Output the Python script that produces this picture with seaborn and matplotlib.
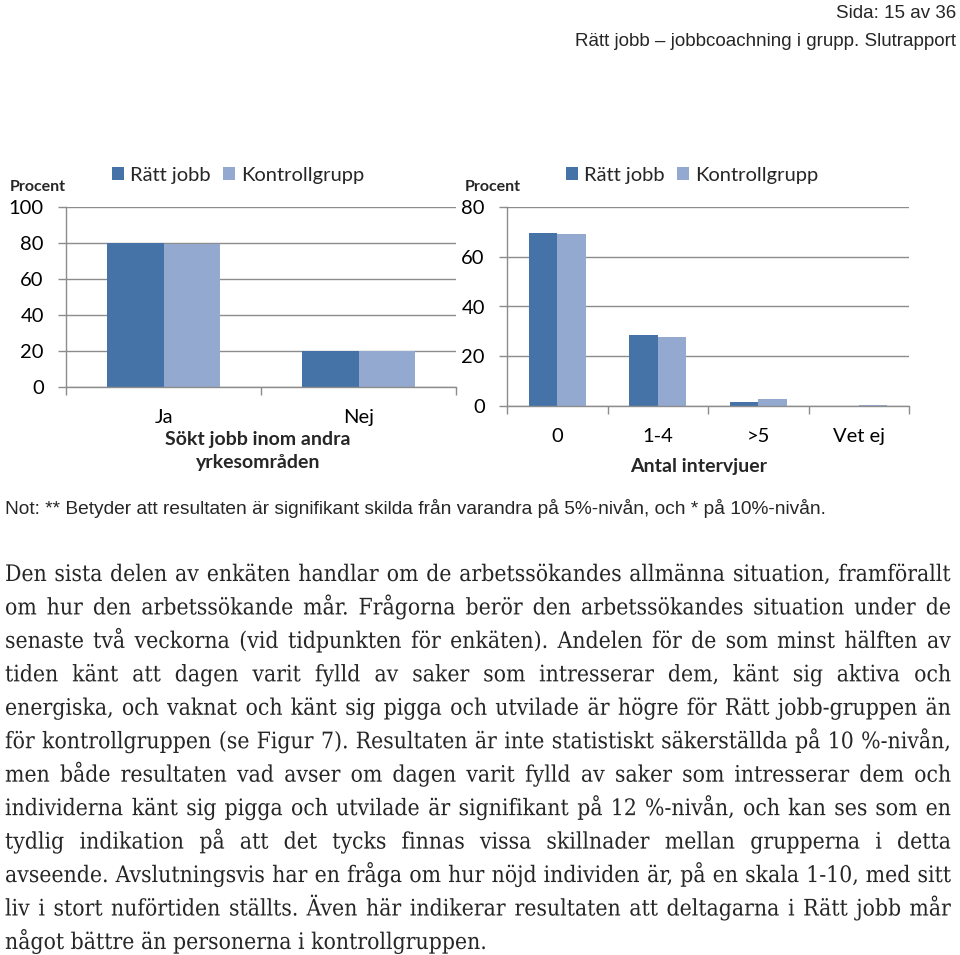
import numpy as np
import pandas as pd
import matplotlib
matplotlib.use("Agg")
import matplotlib.pyplot as plt
import matplotlib.patheffects as pe
from matplotlib.patches import Patch
import seaborn as sns

# ---------------- data ----------------
series = ["Rätt jobb", "Kontrollgrupp"]
left_cats = ["Ja", "Nej"]
left_ratt = [80.0, 20.2]
left_kontroll = [79.7, 20.2]

right_cats = ["0", "1-4", ">5", "Vet ej"]
right_ratt = [69.7, 28.7, 1.7, 0.0]
right_kontroll = [69.0, 27.6, 2.8, 0.6]

left_yticks = [0, 20, 40, 60, 80, 100]
right_yticks = [0, 20, 40, 60, 80]

left_xlabel = "Sökt jobb inom andra\nyrkesområden"
right_xlabel = "Antal intervjuer"
ylabel = "Procent"

header1 = "Sida: 15 av 36"
header2 = "Rätt jobb – jobbcoachning i grupp. Slutrapport"
note = "Not: ** Betyder att resultaten är signifikant skilda från varandra på 5%-nivån, och * på 10%-nivån."
body_lines = [
    "Den sista delen av enkäten handlar om de arbetssökandes allmänna situation, framförallt",
    "om hur den arbetssökande mår. Frågorna berör den arbetssökandes situation under de",
    "senaste två veckorna (vid tidpunkten för enkäten). Andelen för de som minst hälften av",
    "tiden känt att dagen varit fylld av saker som intresserar dem, känt sig aktiva och",
    "energiska, och vaknat och känt sig pigga och utvilade är högre för Rätt jobb-gruppen än",
    "för kontrollgruppen (se Figur 7). Resultaten är inte statistiskt säkerställda på 10 %-nivån,",
    "men både resultaten vad avser om dagen varit fylld av saker som intresserar dem och",
    "individerna känt sig pigga och utvilade är signifikant på 12 %-nivån, och kan ses som en",
    "tydlig indikation på att det tycks finnas vissa skillnader mellan grupperna i detta",
    "avseende. Avslutningsvis har en fråga om hur nöjd individen är, på en skala 1-10, med sitt",
    "liv i stort nuförtiden ställts. Även här indikerar resultaten att deltagarna i Rätt jobb mår",
    "något bättre än personerna i kontrollgruppen.",
]

colors = ["#4572A7", "#93A9CF"]
grid_col = "#8C8C8C"

df_left = pd.DataFrame({
    "cat": left_cats * 2,
    "grupp": [series[0]] * len(left_cats) + [series[1]] * len(left_cats),
    "val": left_ratt + left_kontroll,
})
df_right = pd.DataFrame({
    "cat": right_cats * 2,
    "grupp": [series[0]] * len(right_cats) + [series[1]] * len(right_cats),
    "val": right_ratt + right_kontroll,
})

sns.set_style("white")
plt.rcParams["font.family"] = ["Lato", "DejaVu Sans"]

W, H = 960, 955
fig = plt.figure(figsize=(W / 100, H / 100), dpi=100)


def fx(px):
    return px / W


def fy(py):
    return 1 - py / H


def style_axis(ax, ncat, ymax, yticks):
    ax.set_ylim(0, ymax)
    ax.set_xlim(-0.5, ncat - 0.5)
    ax.set_yticks(yticks)
    ax.set_yticklabels([str(t) for t in yticks], fontsize=14.5, color="black")
    ax.yaxis.grid(True, color=grid_col, linewidth=1.0)
    ax.set_axisbelow(True)
    for s in ["top", "right"]:
        ax.spines[s].set_visible(False)
    for s in ["left", "bottom"]:
        ax.spines[s].set_color(grid_col)
        ax.spines[s].set_linewidth(1.0)
    ax.tick_params(axis="y", which="major", length=6, width=1.0, color=grid_col,
                   pad=10, left=True, direction="out")
    ax.set_xticks(np.arange(-0.5, ncat + 0.5, 1.0), minor=True)
    ax.tick_params(axis="x", which="minor", length=6, width=1.0, color=grid_col,
                   bottom=True, direction="out")
    ax.tick_params(axis="x", which="major", length=0, pad=16, labelsize=14.5,
                   labelcolor="black")
    ax.set_xlabel("")
    ax.set_ylabel("")


# ---------------- left chart ----------------
axL = fig.add_axes([fx(66), fy(387), fx(456) - fx(66), fy(207) - fy(387)])
sns.barplot(data=df_left, x="cat", y="val", hue="grupp", hue_order=series,
            palette=colors, order=left_cats, width=0.575, ax=axL,
            legend=False, saturation=1, errorbar=None, linewidth=0)
style_axis(axL, len(left_cats), 100, left_yticks)

# ---------------- right chart ----------------
axR = fig.add_axes([fx(507), fy(406), fx(909) - fx(507), fy(207) - fy(406)])
sns.barplot(data=df_right, x="cat", y="val", hue="grupp", hue_order=series,
            palette=colors, order=right_cats, width=0.57, ax=axR,
            legend=False, saturation=1, errorbar=None, linewidth=0)
style_axis(axR, len(right_cats), 80, right_yticks)

# legends
handles = [Patch(facecolor=c, edgecolor="none") for c in colors]
for x0 in (112, 566):
    fig.legend(handles, series, loc="center left",
               bbox_to_anchor=(fx(x0), fy(175)), bbox_transform=fig.transFigure,
               ncol=2, frameon=False, fontsize=14.5, handlelength=0.6,
               handleheight=0.6, handletextpad=0.3, columnspacing=0.6,
               borderpad=0, borderaxespad=0)

# y-axis title "Procent"
fig.text(fx(10), fy(187), ylabel, fontsize=11.5, fontweight="bold", ha="left", va="center")
fig.text(fx(465), fy(187), ylabel, fontsize=11.5, fontweight="bold", ha="left", va="center")

# x-axis titles
fig.text(fx(258), fy(451), left_xlabel, fontsize=14, fontweight="bold",
         ha="center", va="center", linespacing=1.45, multialignment="center")
fig.text(fx(699), fy(466), right_xlabel, fontsize=14, fontweight="bold",
         ha="center", va="center")

# ---------------- header / note ----------------
sans = ["Liberation Sans", "DejaVu Sans"]
fig.text(fx(956), fy(18), header1, fontsize=13.5, family=sans, ha="right", va="baseline")
fig.text(fx(956), fy(46), header2, fontsize=13.5, family=sans, ha="right", va="baseline")
fig.text(fx(5), fy(514), note, fontsize=13.8, family=sans, ha="left", va="baseline")

# ---------------- body text (justified, one text per word) ----------------
serif = ["DejaVu Serif", "DejaVu Sans"]
stretch = "condensed"
left_px, right_px = 5, 951
base0, pitch = 581, 33.45
fx_path = [pe.Normal()]   # draw as outlines -> identical baselines for every word
fig.canvas.draw()
renderer = fig.canvas.get_renderer()

fs = 15.0
probe = fig.text(0, 0, "", fontsize=fs, family=serif, fontstretch=stretch)
maxw = 0
for ln in body_lines:
    probe.set_text(ln)
    maxw = max(maxw, probe.get_window_extent(renderer).width)
probe.remove()
fs = min(17.0, fs * (right_px - left_px) / maxw * 0.99)

for i, ln in enumerate(body_lines):
    yb = fy(base0 + i * pitch)
    words = ln.split(" ")
    objs = [fig.text(0, yb, w, fontsize=fs, family=serif, fontstretch=stretch,
                     ha="left", va="baseline", path_effects=fx_path) for w in words]
    widths = [o.get_window_extent(renderer).width for o in objs]
    if i == len(body_lines) - 1:
        sp_probe = fig.text(0, 0, "a a", fontsize=fs, family=serif, fontstretch=stretch)
        sp2 = fig.text(0, 0, "aa", fontsize=fs, family=serif, fontstretch=stretch)
        gap = sp_probe.get_window_extent(renderer).width - sp2.get_window_extent(renderer).width
        sp_probe.remove()
        sp2.remove()
    else:
        gap = (right_px - left_px - sum(widths)) / (len(words) - 1)
    x = left_px
    for o, w in zip(objs, widths):
        o.set_x(fx(x))
        x += w + gap

fig.savefig("out.png", dpi=100)
